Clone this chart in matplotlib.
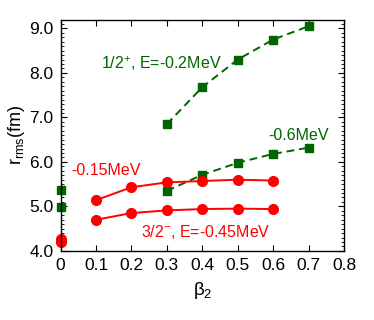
import matplotlib
matplotlib.use("Agg")
import matplotlib.pyplot as plt
from matplotlib.ticker import MultipleLocator

plt.rcParams['font.family'] = ['Liberation Sans', 'DejaVu Sans']
plt.rcParams['mathtext.fontset'] = 'custom'
plt.rcParams['mathtext.rm'] = 'Liberation Sans'
plt.rcParams['mathtext.it'] = 'Liberation Sans'

beta_g = [0.3, 0.4, 0.5, 0.6, 0.7]
r_g_upper = [6.85, 7.68, 8.30, 8.75, 9.05]
r_g_lower = [5.35, 5.71, 5.98, 6.18, 6.32]
beta_g0 = [0.0, 0.0]
r_g0 = [5.37, 4.98]

beta_r = [0.1, 0.2, 0.3, 0.4, 0.5, 0.6]
r_r_upper = [5.14, 5.43, 5.54, 5.57, 5.60, 5.58]
r_r_lower = [4.70, 4.85, 4.91, 4.94, 4.95, 4.94]
beta_r0 = [0.0, 0.0]
r_r0 = [4.27, 4.19]

green = '#006400'
red = '#ff0000'

fig = plt.figure(figsize=(3.74, 3.2), dpi=100)
ax = fig.add_axes([0.162, 0.216, 0.758, 0.723])

ax.plot(beta_g, r_g_upper, color=green, ls=(0, (4, 2.5)), lw=1.4, marker='s', ms=6, clip_on=False)
ax.plot(beta_g, r_g_lower, color=green, ls=(0, (4, 2.5)), lw=1.4, marker='s', ms=6, clip_on=False)
ax.plot(beta_g0, r_g0, color=green, ls='none', marker='s', ms=6, clip_on=False)
ax.plot(beta_r, r_r_upper, color=red, lw=1.4, marker='o', ms=7, clip_on=False)
ax.plot(beta_r, r_r_lower, color=red, lw=1.4, marker='o', ms=7, clip_on=False)
ax.plot(beta_r0, r_r0, color=red, ls='none', marker='o', ms=7, clip_on=False)

ax.set_xlim(0, 0.8)
ax.set_ylim(4.0, 9.2)
ax.yaxis.set_minor_locator(MultipleLocator(0.1))
ax.set_xticks([0, 0.1, 0.2, 0.3, 0.4, 0.5, 0.6, 0.7, 0.8])
ax.set_xticklabels(['0', '0.1', '0.2', '0.3', '0.4', '0.5', '0.6', '0.7', '0.8'])
ax.set_yticks([4, 5, 6, 7, 8, 9])
ax.set_yticklabels(['4.0', '5.0', '6.0', '7.0', '8.0', '9.0'])
ax.tick_params(which='both', direction='in', top=True, right=True, labelsize=12.5, pad=5)
ax.tick_params(which='major', length=4)
ax.tick_params(which='minor', length=2)
for s in ax.spines.values():
    s.set_linewidth(1.0)

ax.set_xlabel(r'$\beta_2$', fontsize=13.5, labelpad=5)
ax.set_ylabel(r'r$_{\mathrm{rms}}$(fm)', fontsize=13, labelpad=2)

ax.text(0.115, 8.2, r'1/2$^{+}$, E=-0.2MeV', color=green, fontsize=11.5, va='center')
ax.text(0.585, 6.6, '-0.6MeV', color=green, fontsize=11.5, va='center')
ax.text(0.03, 5.8, '-0.15MeV', color=red, fontsize=11.5, va='center')
ax.text(0.226, 4.42, r'3/2$^{-}$, E=-0.45MeV', color=red, fontsize=11.5, va='center')

fig.savefig('out.png', dpi=100)
